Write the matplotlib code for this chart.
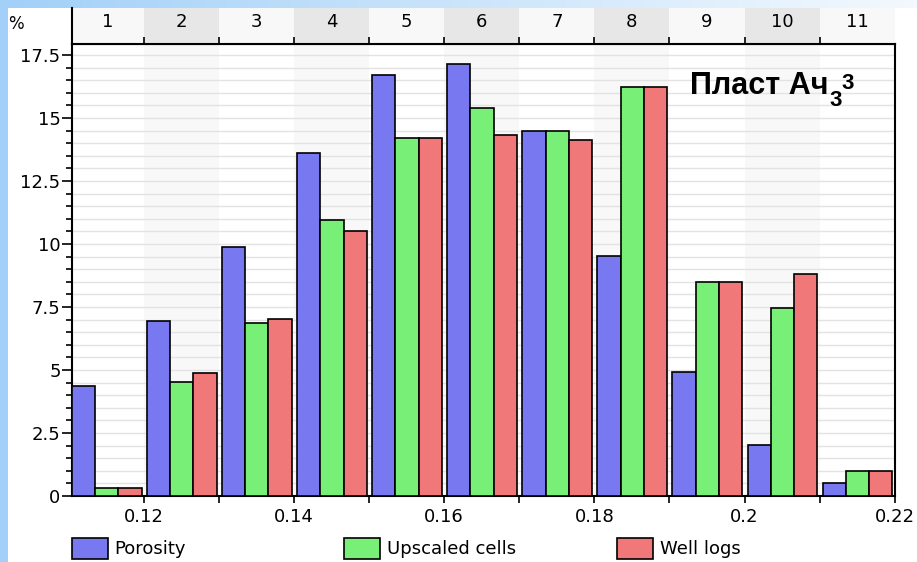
import numpy as np
import matplotlib
matplotlib.use("Agg")
import matplotlib.pyplot as plt
from matplotlib.patches import Rectangle
from matplotlib.colors import LinearSegmentedColormap
from matplotlib.ticker import MultipleLocator

plt.rcParams['font.family'] = ['DejaVu Sans']

# porosity bins, 0.01 wide, numbered 1..11
bin_edges = np.round(np.arange(0.11, 0.2201, 0.01), 2)
bin_numbers = [str(i) for i in range(1, 12)]

# share of values in each bin, %
porosity = [4.37, 6.96, 9.88, 13.61, 16.69, 17.13, 14.48, 9.52, 4.92, 2.02, 0.50]
upscaled = [0.32, 4.51, 6.87, 10.95, 14.22, 15.41, 14.48, 16.24, 8.49, 7.46, 0.99]
well_logs = [0.32, 4.87, 7.02, 10.52, 14.22, 14.33, 14.13, 16.24, 8.49, 8.81, 0.99]

series = [porosity, upscaled, well_logs]
names = ["Porosity", "Upscaled cells", "Well logs"]
colors = ["#7878f0", "#78f078", "#f07878"]

x_ticks = [0.12, 0.14, 0.16, 0.18, 0.2, 0.22]
x_ticklabels = ["0.12", "0.14", "0.16", "0.18", "0.2", "0.22"]
y_ticks = [0, 2.5, 5, 7.5, 10, 12.5, 15, 17.5]
y_ticklabels = ["0", "2.5", "5", "7.5", "10", "12.5", "15", "17.5"]

W, H = 917, 562
fig = plt.figure(figsize=(W / 100, H / 100), dpi=100)

def px_box(x0, y0, x1, y1):
    # pixel box (top-left origin) -> figure fraction rect
    return [x0 / W, 1 - y1 / H, (x1 - x0) / W, (y1 - y0) / H]

# light blue frame behind the white panel
bg = fig.add_axes([0, 0, 1, 1], zorder=-10)
grad = np.linspace(0, 1, 256).reshape(1, -1)
bg_cmap = LinearSegmentedColormap.from_list("bg", ["#a2d0f8", "#f3f9fe"])
bg.imshow(grad, aspect='auto', cmap=bg_cmap, extent=[0, 1, 0, 1])
bg.add_patch(Rectangle((8 / W, 0), 1, 1 - 8 / H, facecolor='white',
                       edgecolor='none', transform=bg.transAxes))
bg.set_xlim(0, 1)
bg.set_ylim(0, 1)
bg.set_axis_off()

ax = fig.add_axes(px_box(71.7, 44, 894.7, 496))
hdr = fig.add_axes(px_box(71.7, 8, 894.7, 44))

xmin, xmax = 0.1104, 0.22
ax.set_xlim(xmin, xmax)
ax.set_ylim(0, 17.94)
ax.set_facecolor('white')

# alternating column shading
for i in range(1, 11, 2):
    ax.axvspan(bin_edges[i], bin_edges[i + 1], color='#f8f8f8', lw=0, zorder=0)

w = 0.0031
for k, (vals, name, c) in enumerate(zip(series, names, colors)):
    ax.bar(bin_edges[:-1] + 0.0004 + k * w, vals, width=w, align='edge',
           color=c, edgecolor='black', linewidth=1.2, zorder=3, label=name)

ax.yaxis.set_minor_locator(MultipleLocator(0.5))
ax.set_yticks(y_ticks)
ax.set_yticklabels(y_ticklabels)
ax.yaxis.grid(True, which='both', color='#e3e3e3', lw=1)
ax.set_axisbelow(True)

ax.set_xticks(x_ticks)
ax.set_xticklabels(x_ticklabels)
ax.set_xticks([0.13, 0.15, 0.17, 0.19, 0.21], minor=True)

ax.tick_params(axis='both', which='both', direction='out', width=1.2,
               labelsize=13, color='black')
ax.tick_params(axis='y', which='major', length=7, pad=1)
ax.tick_params(axis='y', which='minor', length=4)
ax.tick_params(axis='x', which='both', length=5, pad=4)
for s in ax.spines.values():
    s.set_linewidth(1.5)

# bin number strip above the plot
hdr.set_xlim(xmin, xmax)
hdr.set_ylim(0, 1)
hdr.set_facecolor('#f8f8f8')
for i in range(1, 11, 2):
    hdr.axvspan(bin_edges[i], bin_edges[i + 1], color='#e7e7e7', lw=0)
for i, lab in enumerate(bin_numbers):
    cx = (max(bin_edges[i], xmin) + bin_edges[i + 1]) / 2
    hdr.text(cx, 0.6, lab, ha='center', va='center', fontsize=13)
hdr.set_xticks(bin_edges[1:-1])
hdr.tick_params(axis='x', direction='in', length=5, width=1.2,
                labelbottom=False)
hdr.set_yticks([])
hdr.spines['top'].set_visible(False)
hdr.spines['right'].set_visible(False)
hdr.spines['left'].set_linewidth(1.5)
hdr.spines['bottom'].set_linewidth(1.5)

fig.text(15.5 / W, 1 - 24 / H, "%", ha='center', va='center', fontsize=12)

# formation name with index 3 below and 3 above
title = fig.text(690 / W, 1 - 93.5 / H, "Пласт Ач", ha='left', va='baseline',
                 fontsize=22, fontweight='bold', family='Liberation Sans')
bb = title.get_window_extent(fig.canvas.get_renderer())
fig.text((bb.x1 + 1) / W, 1 - 106 / H, "3", ha='left', va='baseline',
         fontsize=16, fontweight='bold', family='Liberation Sans')
fig.text((bb.x1 + 13) / W, 1 - 89 / H, "3", ha='left', va='baseline',
         fontsize=16, fontweight='bold', family='Liberation Sans')

# legend along the bottom edge
for i, (name, c) in enumerate(zip(names, colors)):
    x0 = 71.7 + i * 272.5
    fig.add_artist(Rectangle((x0 / W, 1 - 559 / H), 36 / W, 21 / H,
                             facecolor=c, edgecolor='black', lw=1.2,
                             transform=fig.transFigure))
    fig.text((x0 + 43) / W, 1 - 549 / H, name, ha='left', va='center',
             fontsize=13)

fig.savefig("out.png", dpi=100)
